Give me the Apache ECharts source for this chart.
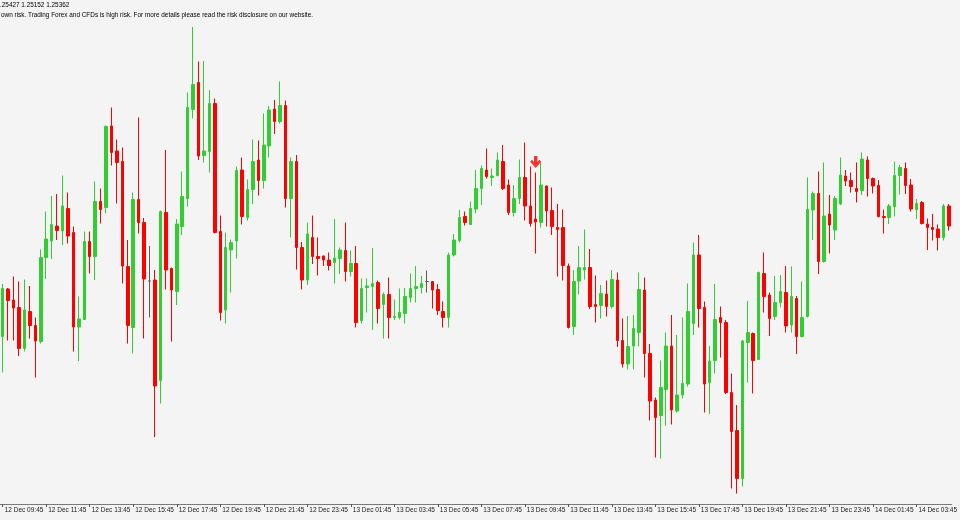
<!DOCTYPE html>
<html>
<head>
<meta charset="utf-8">
<script src="https://cdn.jsdelivr.net/npm/echarts@6/dist/echarts.min.js"></script>
<style>
html,body{margin:0;padding:0;background:#f4f4f4;}
#chart{width:960px;height:520px;}
</style>
</head>
<body>
<div id="chart"></div>
<script>
// 15-minute candles starting 12 Dec 09:45
var startDay = 12, startMinutes = 9 * 60 + 45, candleCount = 175;

var opens = [
1.25327,1.25422,1.25400,1.25385,1.25303,1.25377,1.25349,1.25317,1.25485,1.25518,
1.25548,1.25538,1.25583,1.25535,1.25346,1.25361,1.25517,1.25487,1.25597,1.25585,
1.25748,1.25698,1.25677,1.25467,1.25345,1.25601,1.25555,1.25438,1.25440,1.25239,
1.25575,1.25463,1.25417,1.25547,1.25603,1.25781,1.25835,1.25689,1.25697,1.25793,
1.25537,1.25380,1.25500,1.25518,1.25660,1.25565,1.25621,1.25680,1.25639,1.25708,
1.25782,1.25757,1.25789,1.25603,1.25677,1.25505,1.25440,1.25525,1.25487,1.25488,
1.25480,1.25475,1.25483,1.25499,1.25457,1.25473,1.25359,1.25425,1.25427,1.25435,
1.25391,1.25411,1.25365,1.25365,1.25373,1.25405,1.25423,1.25425,1.25437,1.25437,
1.25421,1.25377,1.25365,1.25490,1.25519,1.25567,1.25551,1.25582,1.25623,1.25660,
1.25645,1.25649,1.25677,1.25630,1.25575,1.25603,1.25645,1.25588,1.25562,1.25555,
1.25628,1.25579,1.25545,1.25545,1.25468,1.25347,1.25438,1.25460,1.25465,1.25391,
1.25389,1.25412,1.25387,1.25440,1.25319,1.25272,1.25308,1.25335,1.25420,1.25293,
1.25200,1.25169,1.25221,1.25308,1.25178,1.25210,1.25232,1.25353,1.25490,1.25385,
1.25235,1.25279,1.25365,1.25355,1.25215,1.25139,1.25043,1.25315,1.25333,1.25281,
1.25453,1.25410,1.25367,1.25395,1.25415,1.25350,1.25403,1.25327,1.25367,1.25580,
1.25613,1.25477,1.25572,1.25540,1.25592,1.25648,1.25639,1.25623,1.25619,1.25680,
1.25643,1.25629,1.25567,1.25565,1.25587,1.25649,1.25663,1.25630,1.25581,1.25595,
1.25552,1.25545,1.25542,1.25525,1.25588
];
var closes = [
1.25423,1.25399,1.25384,1.25303,1.25380,1.25349,1.25318,1.25485,1.25522,1.25551,
1.25539,1.25588,1.25528,1.25346,1.25362,1.25517,1.25487,1.25597,1.25581,1.25747,
1.25695,1.25675,1.25468,1.25349,1.25601,1.25555,1.25442,1.25438,1.25228,1.25577,
1.25460,1.25420,1.25552,1.25607,1.25785,1.25831,1.25688,1.25698,1.25793,1.25535,
1.25375,1.25505,1.25515,1.25659,1.25567,1.25621,1.25677,1.25639,1.25710,1.25780,
1.25757,1.25789,1.25603,1.25677,1.25505,1.25440,1.25532,1.25487,1.25483,1.25480,
1.25469,1.25484,1.25500,1.25457,1.25473,1.25355,1.25423,1.25428,1.25433,1.25383,
1.25411,1.25365,1.25367,1.25375,1.25407,1.25423,1.25427,1.25433,1.25437,1.25420,
1.25379,1.25365,1.25490,1.25520,1.25565,1.25555,1.25583,1.25623,1.25663,1.25647,
1.25648,1.25680,1.25623,1.25575,1.25603,1.25645,1.25588,1.25553,1.25556,1.25630,
1.25578,1.25547,1.25541,1.25469,1.25345,1.25437,1.25465,1.25465,1.25387,1.25387,
1.25413,1.25387,1.25441,1.25319,1.25272,1.25307,1.25343,1.25421,1.25293,1.25198,
1.25165,1.25225,1.25308,1.25180,1.25210,1.25233,1.25377,1.25490,1.25383,1.25232,
1.25278,1.25361,1.25355,1.25215,1.25137,1.25043,1.25318,1.25335,1.25279,1.25455,
1.25407,1.25363,1.25395,1.25417,1.25348,1.25407,1.25327,1.25365,1.25581,1.25613,
1.25477,1.25568,1.25550,1.25603,1.25650,1.25638,1.25627,1.25617,1.25682,1.25643,
1.25628,1.25567,1.25565,1.25588,1.25649,1.25665,1.25629,1.25582,1.25593,1.25553,
1.25545,1.25541,1.25525,1.25588,1.25548
];
var lows = [
1.25255,1.25319,1.25319,1.25288,1.25297,1.25323,1.25245,1.25313,1.25442,1.25482,
1.25520,1.25510,1.25513,1.25297,1.25278,1.25360,1.25453,1.25440,1.25553,1.25573,
1.25669,1.25593,1.25433,1.25313,1.25293,1.25533,1.25323,1.25365,1.25126,1.25193,
1.25421,1.25317,1.25390,1.25530,1.25587,1.25763,1.25680,1.25675,1.25655,1.25533,
1.25359,1.25353,1.25415,1.25483,1.25551,1.25559,1.25592,1.25609,1.25623,1.25685,
1.25732,1.25753,1.25585,1.25525,1.25461,1.25421,1.25430,1.25472,1.25449,1.25468,
1.25459,1.25433,1.25452,1.25437,1.25447,1.25345,1.25353,1.25375,1.25340,1.25353,
1.25323,1.25323,1.25360,1.25361,1.25353,1.25395,1.25395,1.25413,1.25415,1.25383,
1.25370,1.25345,1.25345,1.25487,1.25515,1.25549,1.25550,1.25573,1.25590,1.25643,
1.25628,1.25647,1.25620,1.25570,1.25567,1.25592,1.25559,1.25547,1.25493,1.25545,
1.25547,1.25530,1.25447,1.25439,1.25343,1.25330,1.25411,1.25441,1.25382,1.25355,
1.25363,1.25367,1.25383,1.25306,1.25265,1.25261,1.25261,1.25307,1.25245,1.25159,
1.25085,1.25083,1.25149,1.25151,1.25175,1.25203,1.25227,1.25330,1.25345,1.25175,
1.25172,1.25253,1.25285,1.25212,1.25023,1.25013,1.25027,1.25235,1.25213,1.25280,
1.25375,1.25328,1.25360,1.25385,1.25335,1.25335,1.25292,1.25325,1.25365,1.25520,
1.25452,1.25475,1.25493,1.25520,1.25590,1.25628,1.25615,1.25595,1.25610,1.25607,
1.25613,1.25565,1.25533,1.25552,1.25567,1.25611,1.25612,1.25577,1.25562,1.25551,
1.25500,1.25519,1.25499,1.25519,1.25539
];
var highs = [
1.25432,1.25424,1.25447,1.25437,1.25441,1.25428,1.25365,1.25501,1.25577,1.25608,
1.25612,1.25649,1.25615,1.25547,1.25407,1.25537,1.25537,1.25637,1.25623,1.25749,
1.25785,1.25721,1.25705,1.25520,1.25615,1.25765,1.25564,1.25508,1.25460,1.25579,
1.25700,1.25465,1.25562,1.25657,1.25815,1.25946,1.25877,1.25878,1.25820,1.25803,
1.25569,1.25535,1.25521,1.25667,1.25685,1.25641,1.25721,1.25719,1.25773,1.25788,
1.25800,1.25837,1.25799,1.25685,1.25690,1.25516,1.25555,1.25569,1.25525,1.25489,
1.25495,1.25562,1.25505,1.25555,1.25499,1.25508,1.25443,1.25443,1.25504,1.25439,
1.25415,1.25445,1.25401,1.25423,1.25424,1.25453,1.25468,1.25448,1.25459,1.25438,
1.25432,1.25397,1.25495,1.25532,1.25580,1.25577,1.25597,1.25660,1.25669,1.25703,
1.25663,1.25695,1.25710,1.25641,1.25630,1.25681,1.25715,1.25667,1.25655,1.25675,
1.25629,1.25625,1.25592,1.25581,1.25473,1.25460,1.25508,1.25541,1.25502,1.25449,
1.25430,1.25439,1.25460,1.25455,1.25363,1.25368,1.25370,1.25455,1.25445,1.25312,
1.25205,1.25279,1.25335,1.25370,1.25330,1.25365,1.25433,1.25515,1.25530,1.25397,
1.25308,1.25432,1.25387,1.25360,1.25253,1.25190,1.25320,1.25398,1.25335,1.25457,
1.25495,1.25415,1.25448,1.25450,1.25468,1.25467,1.25408,1.25437,1.25645,1.25617,
1.25657,1.25675,1.25610,1.25608,1.25685,1.25660,1.25655,1.25675,1.25695,1.25687,
1.25645,1.25640,1.25581,1.25592,1.25677,1.25670,1.25675,1.25642,1.25602,1.25598,
1.25563,1.25572,1.25551,1.25592,1.25592
];

// sell-arrow object
var arrowIndex = 98, arrowPrice = 1.25676;

var headerLine1 = ".25427 1.25152 1.25362";
var headerLine2 = "own risk. Trading Forex and CFDs is high risk. For more details please read the risk disclosure on our website.";

var monthName = "Dec";
function pad(n){ return (n < 10 ? "0" : "") + n; }
var categories = [];
for (var i = 0; i < candleCount; i++) {
  var m = startMinutes + i * 15;
  var day = startDay + Math.floor(m / 1440);
  var mm = m % 1440;
  categories.push(day + " " + monthName + " " + pad(Math.floor(mm / 60)) + ":" + pad(mm % 60));
}

var candleData = [];
for (var j = 0; j < candleCount; j++) {
  candleData.push([opens[j], closes[j], lows[j], highs[j]]);
}

var chart = echarts.init(document.getElementById('chart'), null, {renderer: 'canvas'});
var FONT = '"Liberation Sans", Arial, sans-serif';
chart.setOption({
  backgroundColor: '#f4f4f4',
  animation: false,
  grid: {left: -1, right: 0, top: 0, bottom: 16, containLabel: false},
  xAxis: {
    type: 'category',
    data: categories,
    boundaryGap: true,
    axisLine: {show: true, lineStyle: {color: '#7a7a7a', width: 1}},
    axisTick: {show: true, alignWithLabel: true, interval: 7, length: 3, lineStyle: {color: '#555'}},
    axisLabel: {
      show: true, interval: 7, align: 'left', margin: 3,
      padding: [0, 0, 0, 2],
      color: '#1a1a1a', fontFamily: FONT, fontSize: 6.5
    },
    splitLine: {show: false}
  },
  yAxis: {
    type: 'value', min: 1.24992, max: 1.26, scale: true,
    show: false, splitLine: {show: false}
  },
  series: [{
    type: 'candlestick',
    data: candleData,
    barWidth: 3,
    itemStyle: {
      color: '#32cd32', color0: '#ff0000',
      borderColor: '#32cd32', borderColor0: '#ff0000',
      borderColorDoji: '#5a5a5a',
      borderWidth: 1
    }
  }, {
    type: 'scatter',
    data: [[arrowIndex, arrowPrice]],
    symbol: 'path://M3.8,0 L7.2,0 L7.2,5.5 L9.3,3.4 L11,5.2 L5.5,11 L0,5.2 L1.7,3.4 L3.8,5.5 Z',
    symbolSize: [11, 12],
    itemStyle: {color: '#ff0000'},
    silent: true
  }],
  graphic: [
    {type: 'text', left: 0, top: 2, style: {text: headerLine1, fill: '#000', font: '6.4px ' + FONT}},
    {type: 'text', left: 1, top: 12, style: {text: headerLine2, fill: '#000', font: '6.4px ' + FONT}}
  ]
});
</script>
</body>
</html>
